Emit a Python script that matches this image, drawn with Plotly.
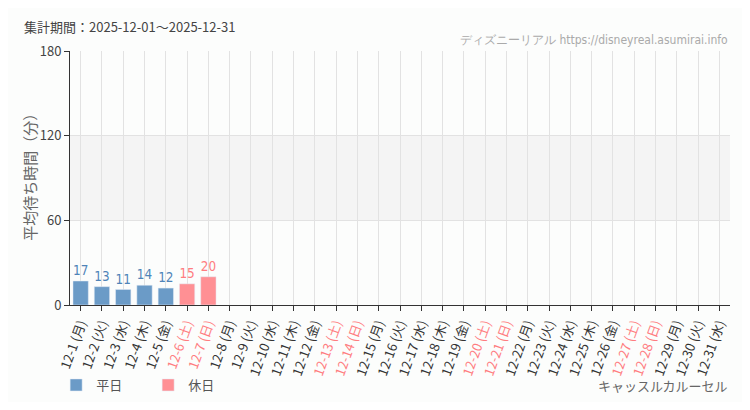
import plotly.graph_objects as go

weekdays = ['月', '火', '水', '木', '金', '土', '日']
days = list(range(1, 32))
dows = [weekdays[(d - 1) % 7] for d in days]
categories = ['12-%d' % d for d in days]
waits = [17, 13, 11, 14, 12, 15, 20] + [None] * 24
holiday = [w in ('土', '日') for w in dows]

blue = '#6b9bc7'
pink = '#ff9094'
blue_txt = '#4f84b8'
pink_txt = '#ff7c80'
narrow = 'DejaVu Sans Condensed, Liberation Sans Narrow, sans-serif'

tick_text = []
for c, w, h in zip(categories, dows, holiday):
    label = '%s (%s)' % (c, w)
    if h:
        label = '<span style="color:%s">%s</span>' % (pink_txt, label)
    tick_text.append(label)

idx = list(range(len(categories)))

fig = go.Figure()
for name, is_hol, col, tcol in [('平日', False, blue, blue_txt), ('休日', True, pink, pink_txt)]:
    ys = [v if (h == is_hol) else None for v, h in zip(waits, holiday)]
    fig.add_trace(go.Bar(
        x=idx, y=ys, name=name, marker_color=col, width=0.72,
        text=[str(v) if v is not None else '' for v in ys],
        textposition='outside', cliponaxis=False,
        textfont=dict(color=tcol, size=14, family=narrow),
    ))

fig.add_hrect(y0=60, y1=120, fillcolor='#f4f4f4', line_width=0, layer='below')

# page has an 8px body margin, so the figure is a little smaller than the window
fig.update_layout(
    width=734, height=394,
    margin=dict(l=62, r=12, t=43, b=97, autoexpand=False),
    paper_bgcolor='#fcfdfc', plot_bgcolor='#fcfdfc',
    barmode='overlay',
    font=dict(family='Noto Sans CJK JP', size=12, color='#444'),
    showlegend=True,
    legend=dict(orientation='h', x=-0.021, y=-0.315, xanchor='left', yanchor='middle',
                font=dict(size=13, color='#555'), entrywidth=47, entrywidthmode='pixels',
                bgcolor='rgba(0,0,0,0)'),
)
fig.update_xaxes(
    range=[-0.5, 30.5], tickmode='array', tickvals=idx, ticktext=tick_text, tickangle=-70,
    showgrid=True, gridcolor='#e2e2e2', ticks='outside', ticklen=5, tickcolor='#333',
    showline=True, linecolor='#333', linewidth=1, zeroline=False, automargin=False,
    tickfont=dict(size=13, color='#333'),
)
fig.update_yaxes(
    range=[0, 180], tickvals=[0, 60, 120, 180], showgrid=True, gridcolor='#e2e2e2',
    ticks='outside', ticklen=5, tickcolor='#333', showline=True, linecolor='#333',
    zeroline=False, automargin=False, tickfont=dict(size=13, color='#444'),
)

fig.add_annotation(text='平均待ち時間（分）', xref='paper', yref='paper', textangle=-90,
                   x=-0.061, y=0.52, xanchor='center', yanchor='middle', showarrow=False,
                   font=dict(size=15, color='#666'))
fig.add_annotation(text='集計期間：2025-12-01～2025-12-31', xref='paper', yref='paper',
                   x=-0.073, y=1.098, xanchor='left', yanchor='middle', showarrow=False,
                   font=dict(size=13, color='#444'))
fig.add_annotation(text='ディズニーリアル https://disneyreal.asumirai.info', xref='paper', yref='paper',
                   x=1.0, y=1.043, xanchor='right', yanchor='middle', showarrow=False,
                   font=dict(size=12, color='#aaa', family=narrow))
fig.add_annotation(text='キャッスルカルーセル', xref='paper', yref='paper',
                   x=1.0, y=-0.315, xanchor='right', yanchor='middle', showarrow=False,
                   font=dict(size=13, color='#666'))

fig.write_html('out.html')
